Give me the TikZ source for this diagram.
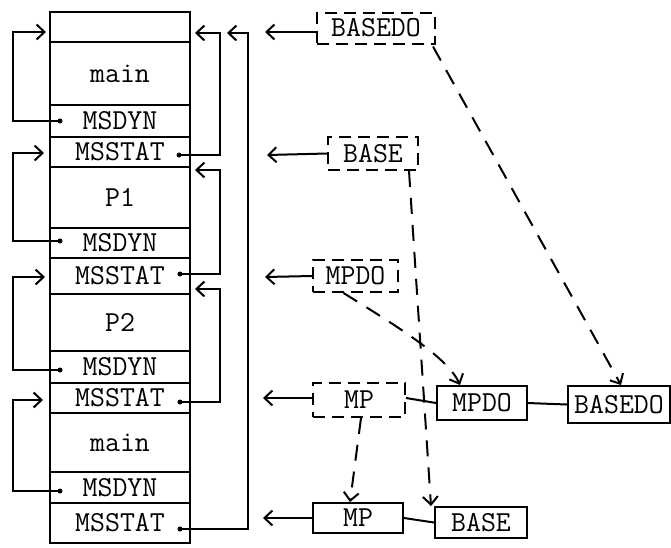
\documentclass[tikz,border=0pt]{standalone}
\usetikzlibrary{arrows.meta}
\begin{document}
\begin{tikzpicture}[x=1pt,y=-1pt,line width=2pt,
  txt/.style={font=\ttfamily\fontsize{29}{29}\selectfont},
  row/.style={draw,txt,minimum width=140pt,inner sep=0pt},
  box/.style={draw,txt,inner sep=0pt},
  dbox/.style={box,dash pattern=on 12pt off 7pt},
  arr/.style={-{Straight Barb[length=8pt,width=15pt]}},
  darr/.style={arr,dash pattern=on 16pt off 11pt},
  dotn/.style={circle,fill,inner sep=0pt,minimum size=5pt}]
\useasboundingbox (0,0) rectangle (671,547);
% stack
\node[row,minimum height=30pt] (r0) at (120,27) {};
\node[row,minimum height=63pt] (r1) at (120,73.5) {main};
\node[row,minimum height=32pt] (r2) at (120,121) {MSDYN};
\node[row,minimum height=30pt] (r3) at (120,152) {MSSTAT};
\node[row,minimum height=61pt] (r4) at (120,197.5) {P1};
\node[row,minimum height=30pt] (r5) at (120,243) {MSDYN};
\node[row,minimum height=36pt] (r6) at (120,276) {MSSTAT};
\node[row,minimum height=57pt] (r7) at (120,322.5) {P2};
\node[row,minimum height=32pt] (r8) at (120,367) {MSDYN};
\node[row,minimum height=30pt] (r9) at (120,398) {MSSTAT};
\node[row,minimum height=59pt] (r10) at (120,442.5) {main};
\node[row,minimum height=31pt] (r11) at (120,487.5) {MSDYN};
\node[row,minimum height=40pt] (r12) at (120,523) {MSSTAT};
% dots
\node[dotn] (dy1) at (60,121) {};
\node[dotn] (dy2) at (60,241) {};
\node[dotn] (dy3) at (60,370) {};
\node[dotn] (dy4) at (60,491) {};
\node[dotn] (st1) at (179,155) {};
\node[dotn] (st2) at (180,274) {};
\node[dotn] (st3) at (180,402) {};
\node[dotn] (st4) at (180,529) {};
% corner and tip coordinates
\coordinate (c1) at (13,32);   \coordinate (t1) at (46,32);
\coordinate (c2) at (13,153);  \coordinate (t2) at (44,153);
\coordinate (c3) at (13,277);  \coordinate (t3) at (45,277);
\coordinate (c4) at (13,400);  \coordinate (t4) at (43,400);
\coordinate (c5) at (220,33);  \coordinate (t5) at (195,33);
\coordinate (c6) at (220,170); \coordinate (t6) at (195,170);
\coordinate (c7) at (220,289); \coordinate (t7) at (195,289);
\coordinate (c8) at (248,33);  \coordinate (t8) at (227,33);
% dynamic links
\draw[arr] (dy1.center) -| (c1) -- (t1);
\draw[arr] (dy2.center) -| (c2) -- (t2);
\draw[arr] (dy3.center) -| (c3) -- (t3);
\draw[arr] (dy4.center) -| (c4) -- (t4);
% static links
\draw[arr] (st1.center) -| (c5) -- (t5);
\draw[arr] (st2.center) -| (c6) -- (t6);
\draw[arr] (st3.center) -| (c7) -- (t7);
\draw[arr] (st4.center) -| (c8) -- (t8);
% right boxes
\node[dbox,minimum width=118pt,minimum height=31pt] (bdd) at (376,28) {BASEDO};
\node[dbox,minimum width=90pt,minimum height=33pt] (bsd) at (373,153.5) {BASE};
\node[dbox,minimum width=85pt,minimum height=32pt] (mpdod) at (355.5,276) {MPDO};
\node[dbox,minimum width=92pt,minimum height=34pt] (mpd) at (359,400) {MP};
\node[box,minimum width=90pt,minimum height=34pt] (mpdos) at (482,403) {MPDO};
\node[box,minimum width=102pt,minimum height=37pt] (bdos) at (619,404.5) {BASEDO};
\node[box,minimum width=90pt,minimum height=30pt] (mps) at (358,518) {MP};
\node[box,minimum width=92pt,minimum height=31pt] (bss) at (481,522.5) {BASE};
% external arrows
\coordinate (e1) at (265,32);
\coordinate (e2) at (267,155);
\coordinate (e3) at (265,277);
\coordinate (e4) at (263,398);
\coordinate (e5) at (263,518);
\draw[arr] ([yshift=-4pt]bdd.west) -- (e1);
\draw[arr] (bsd.west) -- (e2);
\draw[arr] (mpdod.west) -- (e3);
\draw[arr] ([yshift=2pt]mpd.west) -- (e4);
\draw[arr] (mps.west) -- (e5);
% solid links
\draw ([yshift=2pt]mpd.east) -- ([yshift=-3pt]mpdos.west |- mpd.east);
\draw (mpdos.east) -- (bdos.west);
\draw (mps.east) -- (bss.west);
% dashed references
\draw[darr] ([xshift=-3pt,yshift=-2pt]bdd.south east) -- ([xshift=2pt]bdos.north);
\draw[darr] ([xshift=-10pt]bsd.south east) -- ([xshift=-3pt]bss.north west);
\draw[darr] ([xshift=-12pt]mpdod.south) .. controls (400,328) and (448,358) .. ([xshift=-22pt]mpdos.north);
\draw[darr] ([xshift=2pt]mpd.south) -- ([xshift=-8pt]mps.north);
\end{tikzpicture}
\end{document}
